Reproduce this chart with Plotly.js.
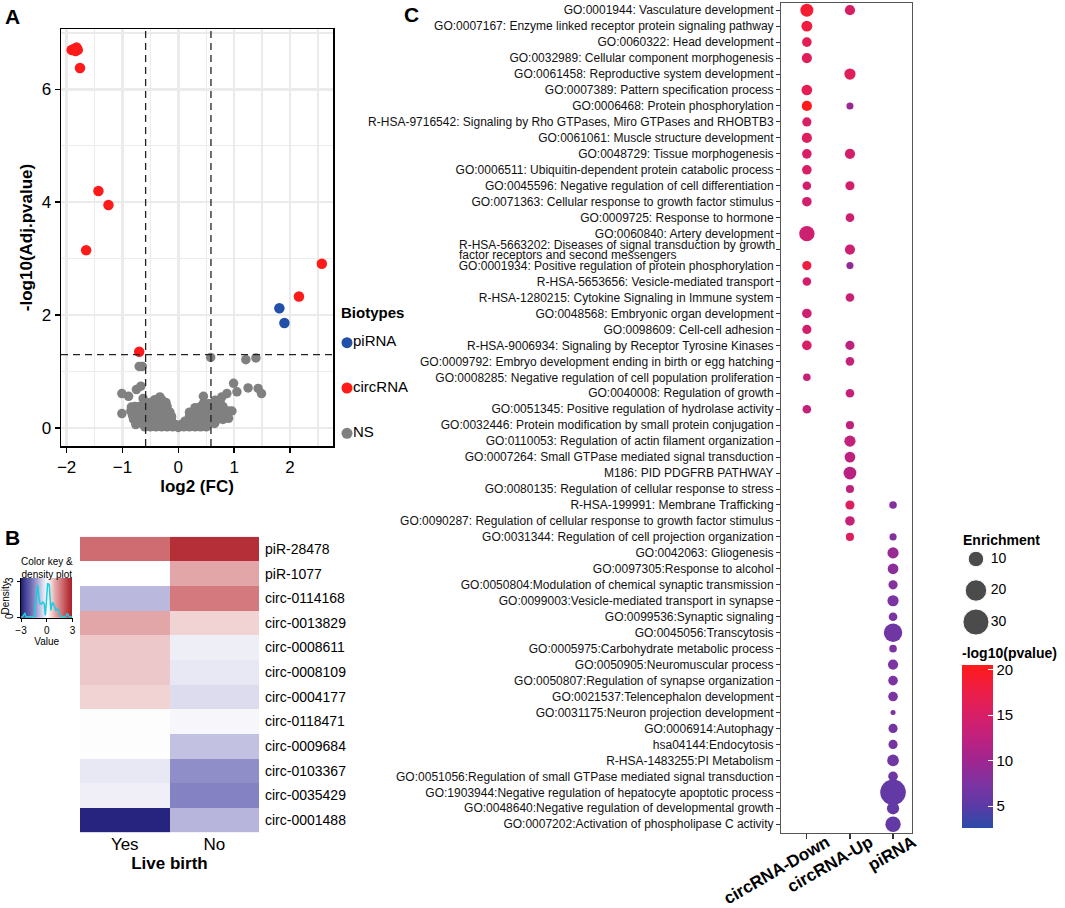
<!DOCTYPE html>
<html>
<head>
<meta charset="utf-8">
<script src="https://cdn.plot.ly/plotly-3.0.1.min.js"></script>
<style>html,body{margin:0;padding:0;background:#fff;}#chart{width:1065px;height:908px;}</style>
</head>
<body>
<div id="chart"></div>
<script>
// ---------------- Panel A : volcano ----------------
const circX = [-1.91, -1.86, -1.82, -1.80, -1.84, -1.76, -1.43, -1.25, -1.65, -0.70, 2.57, 2.16];
const circY = [6.70, 6.72, 6.74, 6.70, 6.68, 6.38, 4.20, 3.95, 3.15, 1.35, 2.91, 2.33];
const piX = [1.81, 1.90];
const piY = [2.12, 1.86];
const nsX = [
  0.58, 1.21, 1.39, -0.70, -0.645, -0.75, -0.67, -1.01, -0.89, -0.63, -1.01, -0.84, -0.78, -0.76,
  0.99, 1.05, 1.25, 1.43, 1.49, 0.96, 0.87, 0.78, 0.66, 0.57, 0.45, -0.33, -0.39, 0.69, 0.81, 0.90,
  -0.6, -0.5, -0.4, -0.3, -0.2, -0.1, 0, 0.1, 0.2, 0.3, 0.4, 0.5,
  -0.75, -0.65, -0.55, -0.45, -0.35, -0.25, -0.15, -0.05, 0.05, 0.15, 0.25, 0.35, 0.45, 0.55, 0.65,
  -0.8, -0.7, -0.6, -0.5, -0.4, -0.3, -0.2, -0.12, 0.12, 0.2, 0.3, 0.4, 0.5, 0.6, 0.7, 0.8,
  -0.82, -0.72, -0.62, -0.52, -0.42, -0.32, -0.22, -0.12, 0.2, 0.3, 0.42, 0.52, 0.62, 0.72, 0.82,
  -0.85, -0.78, -0.68, -0.55, -0.45, -0.35, -0.25, -0.15, 0.2, 0.3, 0.4, 0.5, 0.6, 0.7, 0.8, 0.9,
  -0.78, -0.7, -0.6, -0.5, -0.4, -0.3, -0.2, 0.3, 0.4, 0.5, 0.6, 0.7, 0.8,
  -0.5, -0.42, -0.35, -0.28, -0.22, 0.45, 0.55, 0.65, 0.75,
  -0.42, -0.3
];
const nsY = [
  1.25, 1.21, 1.24, 1.09, 1.09, 0.68, 0.74, 0.61, 0.56, 0.52, 0.255, 0.37, 0.31, 0.06,
  0.79, 0.64, 0.71, 0.70, 0.61, 0.30, 0.61, 0.55, 0.49, 0.43, 0.56, 0.55, 0.49, 0.225, 0.31, 0.17,
  0.02, 0.02, 0.02, 0.02, 0.02, 0.02, 0.01, 0.02, 0.02, 0.02, 0.02, 0.02,
  0.08, 0.08, 0.08, 0.08, 0.08, 0.08, 0.08, 0.06, 0.06, 0.08, 0.08, 0.08, 0.08, 0.08, 0.08,
  0.15, 0.15, 0.15, 0.15, 0.15, 0.15, 0.15, 0.12, 0.12, 0.15, 0.15, 0.15, 0.15, 0.15, 0.15, 0.15,
  0.22, 0.22, 0.22, 0.22, 0.22, 0.22, 0.22, 0.2, 0.2, 0.22, 0.22, 0.22, 0.22, 0.22, 0.22,
  0.30, 0.30, 0.30, 0.30, 0.30, 0.30, 0.30, 0.28, 0.28, 0.30, 0.30, 0.30, 0.30, 0.30, 0.30, 0.30,
  0.38, 0.38, 0.38, 0.38, 0.38, 0.38, 0.38, 0.36, 0.38, 0.38, 0.38, 0.38, 0.38,
  0.45, 0.45, 0.45, 0.45, 0.45, 0.43, 0.43, 0.43, 0.45,
  0.5, 0.5
];
const biotypes = ['piRNA', 'circRNA', 'NS'];
const fcCut = Math.log2(1.5);
const pCut = -Math.log10(0.05);

// ---------------- Panel B : heatmap ----------------
const heatRows = ['piR-28478', 'piR-1077', 'circ-0114168', 'circ-0013829', 'circ-0008611', 'circ-0008109',
  'circ-0004177', 'circ-0118471', 'circ-0009684', 'circ-0103367', 'circ-0035429', 'circ-0001488'];
const heatCols = ['Yes', 'No'];
const yesVals = [1.7, 0.0, -0.9, 1.0, 0.62, 0.62, 0.5, -0.02, -0.02, -0.3, -0.2, -2.95];
const noVals = [2.6, 1.0, 1.5, 0.5, -0.22, -0.3, -0.45, -0.12, -0.8, -1.45, -1.6, -0.95];
const keyVals = [-3, -2.5, -2, -1.5, -1, -0.5, 0, 0.5, 1, 1.5, 2, 2.5, 3];
const densX = [-3, -2.81, -2.62, -2.54, -2.45, -2.2, -1.8, -1.45, -1.25, -1.06, -0.9, -0.76, -0.6, -0.45, -0.29, -0.17,
  -0.02, 0.1, 0.29, 0.38, 0.48, 0.58, 0.68, 0.87, 1.06, 1.26, 1.45, 1.64, 1.9, 2.2, 2.42, 2.6, 2.8, 3];
const densY = [0.05, 0.08, 0.3, 0.4, 0.1, 0.08, 0.08, 0.1, 1.3, 2.73, 1.6, 1.14, 1.14, 1.3, 1.14, 0.2,
  1.5, 2.87, 2.73, 1.5, 0.61, 1.0, 1.27, 1.0, 0.61, 0.74, 0.35, 0.08, 0.08, 0.08, 0.35, 0.08, 0.08, 0.05];

// ---------------- Panel C : enrichment dot plot ----------------
const groups = ['circRNA-Down', 'circRNA-Up', 'piRNA'];
const terms = [
  'GO:0001944: Vasculature development',
  'GO:0007167: Enzyme linked receptor protein signaling pathway',
  'GO:0060322: Head development',
  'GO:0032989: Cellular component morphogenesis',
  'GO:0061458: Reproductive system development',
  'GO:0007389: Pattern specification process',
  'GO:0006468: Protein phosphorylation',
  'R-HSA-9716542: Signaling by Rho GTPases, Miro GTPases and RHOBTB3',
  'GO:0061061: Muscle structure development',
  'GO:0048729: Tissue morphogenesis',
  'GO:0006511: Ubiquitin-dependent protein catabolic process',
  'GO:0045596: Negative regulation of cell differentiation',
  'GO:0071363: Cellular response to growth factor stimulus',
  'GO:0009725: Response to hormone',
  'GO:0060840: Artery development',
  'R-HSA-5663202: Diseases of signal transduction by growth factor receptors and second messengers',
  'GO:0001934: Positive regulation of protein phosphorylation',
  'R-HSA-5653656: Vesicle-mediated transport',
  'R-HSA-1280215: Cytokine Signaling in Immune system',
  'GO:0048568: Embryonic organ development',
  'GO:0098609: Cell-cell adhesion',
  'R-HSA-9006934: Signaling by Receptor Tyrosine Kinases',
  'GO:0009792: Embryo development ending in birth or egg hatching',
  'GO:0008285: Negative regulation of cell population proliferation',
  'GO:0040008: Regulation of growth',
  'GO:0051345: Positive regulation of hydrolase activity',
  'GO:0032446: Protein modification by small protein conjugation',
  'GO:0110053: Regulation of actin filament organization',
  'GO:0007264: Small GTPase mediated signal transduction',
  'M186: PID PDGFRB PATHWAY',
  'GO:0080135: Regulation of cellular response to stress',
  'R-HSA-199991: Membrane Trafficking',
  'GO:0090287: Regulation of cellular response to growth factor stimulus',
  'GO:0031344: Regulation of cell projection organization',
  'GO:0042063: Gliogenesis',
  'GO:0097305:Response to alcohol',
  'GO:0050804:Modulation of chemical synaptic transmission',
  'GO:0099003:Vesicle-mediated transport in synapse',
  'GO:0099536:Synaptic signaling',
  'GO:0045056:Transcytosis',
  'GO:0005975:Carbohydrate metabolic process',
  'GO:0050905:Neuromuscular process',
  'GO:0050807:Regulation of synapse organization',
  'GO:0021537:Telencephalon development',
  'GO:0031175:Neuron projection development',
  'GO:0006914:Autophagy',
  'hsa04144:Endocytosis',
  'R-HSA-1483255:PI Metabolism',
  'GO:0051056:Regulation of small GTPase mediated signal transduction',
  'GO:1903944:Negative regulation of hepatocyte apoptotic process',
  'GO:0048640:Negative regulation of developmental growth',
  'GO:0007202:Activation of phospholipase C activity'
];
const N = null;
const downEnrich = [6.7, 4.5, 3.3, 3.8, N, 4.3, 3.8, 2.9, 3.8, 3.3, 3.3, 2.5, 3.3, N, 9.8, N, 2.9, 2.5, N, 3.3, 2.9, 3.3, N, 1.7, N, 2.5,
  N, N, N, N, N, N, N, N, N, N, N, N, N, N, N, N, N, N, N, N, N, N, N, N, N, N];
const downLogP = [19, 18, 16.5, 16, N, 16.5, 20.5, 15, 15.5, 15, 15, 14.5, 14.5, N, 14, N, 18, 14.5, N, 14, 14.5, 15, N, 13.5, N, 13,
  N, N, N, N, N, N, N, N, N, N, N, N, N, N, N, N, N, N, N, N, N, N, N, N, N, N];
const upEnrich = [3.8, N, N, N, 4.8, N, 1.4, N, N, 3.8, N, 2.9, N, 2.5, N, 3.8, 1.4, N, 2.5, N, N, 2.9, 2.5, N, 2.5, N,
  2.1, 4.8, 4.3, 6.5, 2.1, 2.9, 3.3, 2.1, N, N, N, N, N, N, N, N, N, N, N, N, N, N, N, N, N, N];
const upLogP = [15, N, N, N, 16, N, 9.5, N, N, 14.5, N, 14.5, N, 14, N, 14, 9, N, 13.5, N, N, 12.5, 13, N, 13, N,
  12.5, 13, 12.5, 12, 12.5, 15.5, 13, 15.5, N, N, N, N, N, N, N, N, N, N, N, N, N, N, N, N, N, N];
const piEnrich = [N, N, N, N, N, N, N, N, N, N, N, N, N, N, N, N, N, N, N, N, N, N, N, N, N, N,
  N, N, N, N, N, 1.7, N, 1.4, 4.8, 4.3, 2.9, 4.8, 2.5, 14.5, 1.7, 3.8, 3.3, 3.3, 0.25, 2.9, 2.9, 5.3, 3.3, 28.8, 5.9, 9.8];
const piLogP = [N, N, N, N, N, N, N, N, N, N, N, N, N, N, N, N, N, N, N, N, N, N, N, N, N, N,
  N, N, N, N, N, 8, N, 8, 9.5, 8.5, 8, 7.5, 7.5, 6.5, 7.5, 7.5, 7.5, 7.5, 7.5, 7, 7, 6.5, 6.5, 5.5, 5.5, 5.5];
const sizeLegend = [10, 20, 30];
const colorTicks = [5, 10, 15, 20];

// ---------------- helpers ----------------
const FONT = 'Liberation Sans, Arial, Helvetica, sans-serif';
const W = 1065, H = 908;
const px = v => v / W;
const py = v => 1 - v / H;
const dotDiam = e => Math.sqrt(22 * e + 20);
const C_FONT = 12;

function textWidth(str, size) {
  const c = document.createElement('canvas').getContext('2d');
  c.font = size + 'px "Liberation Sans", Arial, sans-serif';
  return c.measureText(str).width;
}

const traces = [];

// Panel A
traces.push({type: 'scatter', mode: 'markers', x: nsX, y: nsY, xaxis: 'x', yaxis: 'y',
  marker: {color: '#808080', size: 9.5}, hoverinfo: 'skip'});
traces.push({type: 'scatter', mode: 'markers', x: circX, y: circY, xaxis: 'x', yaxis: 'y',
  marker: {color: '#ff1a1a', size: 10.5}});
traces.push({type: 'scatter', mode: 'markers', x: piX, y: piY, xaxis: 'x', yaxis: 'y',
  marker: {color: '#2150a8', size: 10.5}});
// Panel A legend
traces.push({type: 'scatter', mode: 'markers', x: biotypes.map(() => 0.2), y: biotypes, xaxis: 'x5', yaxis: 'y5',
  marker: {color: ['#2150a8', '#ff1a1a', '#808080'], size: 11}, hoverinfo: 'skip', cliponaxis: false});
traces.push({type: 'scatter', mode: 'text', x: biotypes.map(() => 0.3), y: biotypes, xaxis: 'x5', yaxis: 'y5',
  text: biotypes, textposition: 'middle right', textfont: {size: 15, color: '#000', family: FONT}, hoverinfo: 'skip', cliponaxis: false});

// Panel B
const heatScale = [[0, '#23207c'], [0.2333, '#8582c3'], [0.5, '#ffffff'], [0.75, '#d47a7e'], [1, '#a8141e']];
traces.push({type: 'heatmap', x: heatCols, y: heatRows, z: heatRows.map((r, i) => [yesVals[i], noVals[i]]),
  xaxis: 'x2', yaxis: 'y2', colorscale: heatScale, zmin: -3, zmax: 3, showscale: false});
traces.push({type: 'heatmap', x: keyVals, y: [0, 3.3], z: [keyVals], xaxis: 'x4', yaxis: 'y4',
  colorscale: heatScale, zmin: -3, zmax: 3, showscale: false, zsmooth: 'best', hoverinfo: 'skip'});
traces.push({type: 'scatter', mode: 'lines', x: densX, y: densY, xaxis: 'x4', yaxis: 'y4',
  line: {color: '#17cfe0', width: 1.5}, hoverinfo: 'skip'});

// Panel C
const cScale = [[0, '#2a4ca8'], [0.134, '#5b3aa6'], [0.274, '#7d33a2'], [0.413, '#a0268f'],
  [0.553, '#bf217f'], [0.693, '#d81f66'], [0.832, '#ec1e48'], [1, '#ff1a1a']];
[[downEnrich, downLogP], [upEnrich, upLogP], [piEnrich, piLogP]].forEach((pair, g) => {
  const idx = [];
  pair[0].forEach((e, i) => { if (e !== null) idx.push(i); });
  traces.push({type: 'scatter', mode: 'markers', xaxis: 'x3', yaxis: 'y3',
    x: idx.map(() => groups[g]), y: idx,
    text: idx.map(i => terms[i]),
    marker: {size: idx.map(i => dotDiam(pair[0][i])), color: idx.map(i => pair[1][i]), coloraxis: 'coloraxis',
      line: {width: 0}, opacity: 1}});
});
// size legend
traces.push({type: 'scatter', mode: 'markers', x: sizeLegend.map(() => 0.236), y: sizeLegend, xaxis: 'x6', yaxis: 'y6',
  marker: {color: '#000', size: sizeLegend.map(dotDiam)}, hoverinfo: 'skip', cliponaxis: false});
traces.push({type: 'scatter', mode: 'text', x: sizeLegend.map(() => 0.37), y: sizeLegend, xaxis: 'x6', yaxis: 'y6',
  text: sizeLegend.map(String), textposition: 'middle right', textfont: {size: 14, color: '#000', family: FONT}, hoverinfo: 'skip', cliponaxis: false});

const tickText = terms.map((t, i) => i === 15 ? '' : t);
const splitAt = terms[15].indexOf(' factor receptors');
const line1 = terms[15].slice(0, splitAt);
const line2 = terms[15].slice(splitAt + 1);
const line1Left = 773 - textWidth(line1, C_FONT);

const hidden = {visible: false, showgrid: false, zeroline: false, fixedrange: true};

const layout = {
  width: W, height: H, margin: {l: 0, r: 0, t: 0, b: 0},
  paper_bgcolor: '#fff', plot_bgcolor: 'rgba(0,0,0,0)',
  font: {family: FONT, color: '#000'},
  showlegend: false,
  xaxis: {domain: [px(61), px(333)], anchor: 'y', range: [-2.1, 2.77], dtick: 1, tick0: 0,
    ticks: 'outside', ticklen: 5, tickwidth: 1.5, tickcolor: '#000',
    showline: true, mirror: true, linecolor: '#000', linewidth: 1.5,
    showgrid: true, gridcolor: '#ebebeb', gridwidth: 2.5, zeroline: false,
    minor: {dtick: 0.5, showgrid: true, gridcolor: '#ebebeb', gridwidth: 1.2},
    tickfont: {size: 17, color: '#000'},
    title: {text: '<b>log2 (FC)</b>', font: {size: 17}, standoff: 2}},
  yaxis: {domain: [py(446), py(29)], anchor: 'x', range: [-0.32, 7.07], dtick: 2, tick0: 0,
    ticks: 'outside', ticklen: 5, tickwidth: 1.5, tickcolor: '#000',
    showline: true, mirror: true, linecolor: '#000', linewidth: 1.5,
    showgrid: true, gridcolor: '#ebebeb', gridwidth: 2.5, zeroline: false,
    minor: {dtick: 1, showgrid: true, gridcolor: '#ebebeb', gridwidth: 1.2},
    tickfont: {size: 17, color: '#000'},
    title: {text: '<b>-log10(Adj.pvalue)</b>', font: {size: 17}, standoff: 4}},
  xaxis2: {domain: [px(80), px(259)], anchor: 'y2', type: 'category', ticks: '', showline: false, showgrid: false,
    tickfont: {size: 17, color: '#000'}, title: {text: '<b>Live birth</b>', font: {size: 17}, standoff: 2}},
  yaxis2: {domain: [py(832.3), py(536.7)], anchor: 'x2', side: 'right', type: 'category', autorange: 'reversed',
    ticks: '', showline: false, showgrid: false, tickfont: {size: 14, color: '#000'}, ticklabelstandoff: 5},
  xaxis3: {domain: [px(781), px(912)], anchor: 'y3', type: 'category', categoryarray: groups, range: [-0.6, 2.44],
    ticks: 'outside', ticklen: 5, tickwidth: 1.2, tickcolor: '#333', tickangle: -30,
    ticklabelshift: 20, ticklabelstandoff: -13,
    tickfont: {size: 17, weight: 'bold', color: '#000'},
    showline: true, mirror: true, linecolor: '#555', linewidth: 1, showgrid: false, zeroline: false},
  yaxis3: {domain: [py(833), py(3)], anchor: 'x3', range: [51.55, -0.45], tickmode: 'array',
    tickvals: terms.map((t, i) => i), ticktext: tickText,
    ticks: 'outside', ticklen: 4, tickwidth: 1, tickcolor: '#333', tickfont: {size: C_FONT, color: '#111'},
    showline: true, mirror: true, linecolor: '#555', linewidth: 1, showgrid: false, zeroline: false},
  xaxis4: {domain: [px(21), px(72.5)], anchor: 'y4', range: [-3, 3], tickvals: [-3, 0, 3],
    ticks: 'outside', ticklen: 3, tickcolor: '#000', tickfont: {size: 10}, showline: true, linecolor: '#000',
    showgrid: false, zeroline: false, title: {text: 'Value', font: {size: 10}, standoff: 0}},
  yaxis4: {domain: [py(617.7), py(578)], anchor: 'x4', range: [0, 3.3], tickvals: [0, 3], tickangle: -90,
    ticks: 'outside', ticklen: 3, tickcolor: '#000', tickfont: {size: 10}, showline: true, linecolor: '#000',
    showgrid: false, zeroline: false, title: {text: 'Density', font: {size: 10}, standoff: 0}},
  xaxis5: Object.assign({domain: [px(335), px(395)], anchor: 'y5', range: [0, 1]}, hidden),
  yaxis5: Object.assign({domain: [py(456), py(320)], anchor: 'x5', type: 'category', categoryarray: biotypes, range: [2.5, -0.5]}, hidden),
  xaxis6: Object.assign({domain: [px(950), px(1060)], anchor: 'y6', range: [0, 1]}, hidden),
  yaxis6: Object.assign({domain: [py(640), py(540)], anchor: 'x6', range: [35.7, 3.97]}, hidden),
  coloraxis: {colorscale: cScale, cmin: 2.6, cmax: 20.5,
    colorbar: {x: px(962), xanchor: 'left', y: py(828), yanchor: 'bottom', len: 184, lenmode: 'pixels',
      thickness: 31, thicknessmode: 'pixels', xpad: 0, ypad: 0, outlinewidth: 0,
      tickmode: 'array', tickvals: colorTicks, ticks: 'inside', tickcolor: '#fff', ticklen: 5, tickwidth: 1,
      tickfont: {size: 15, color: '#000'},
      title: {text: '<b>-log10(pvalue)</b>', side: 'top', font: {size: 14, color: '#000'}}}},
  shapes: [
    {type: 'line', xref: 'x', yref: 'y domain', x0: -fcCut, x1: -fcCut, y0: 0, y1: 1, line: {color: '#222', width: 1.3, dash: '7px,5px'}},
    {type: 'line', xref: 'x', yref: 'y domain', x0: fcCut, x1: fcCut, y0: 0, y1: 1, line: {color: '#222', width: 1.3, dash: '7px,5px'}},
    {type: 'line', xref: 'x domain', yref: 'y', x0: 0, x1: 1, y0: pCut, y1: pCut, line: {color: '#222', width: 1.3, dash: '7px,5px'}}
  ],
  annotations: [
    {text: '<b>A</b>', xref: 'paper', yref: 'paper', x: px(3), y: py(16), xanchor: 'left', yanchor: 'middle', showarrow: false, font: {size: 21}},
    {text: '<b>B</b>', xref: 'paper', yref: 'paper', x: px(3), y: py(537), xanchor: 'left', yanchor: 'middle', showarrow: false, font: {size: 21}},
    {text: '<b>C</b>', xref: 'paper', yref: 'paper', x: px(402), y: py(14), xanchor: 'left', yanchor: 'middle', showarrow: false, font: {size: 21}},
    {text: '<b>Biotypes</b>', xref: 'paper', yref: 'paper', x: px(339), y: py(313), xanchor: 'left', yanchor: 'middle', showarrow: false, font: {size: 15}},
    {text: '<b>Enrichment</b>', xref: 'paper', yref: 'paper', x: px(961), y: py(540), xanchor: 'left', yanchor: 'middle', showarrow: false, font: {size: 14}},
    {text: 'Color key &<br>density plot', xref: 'paper', yref: 'paper', x: px(47), y: py(568), xanchor: 'center', yanchor: 'middle', showarrow: false, font: {size: 10}},
    {text: line1, xref: 'paper', yref: 'y3', x: px(line1Left), y: 14.72, xanchor: 'left', yanchor: 'middle', showarrow: false, font: {size: C_FONT, color: '#111'}},
    {text: line2, xref: 'paper', yref: 'y3', x: px(line1Left), y: 15.33, xanchor: 'left', yanchor: 'middle', showarrow: false, font: {size: C_FONT, color: '#111'}}
  ]
};

Plotly.newPlot('chart', traces, layout, {displayModeBar: false, staticPlot: true});
</script>
</body>
</html>
